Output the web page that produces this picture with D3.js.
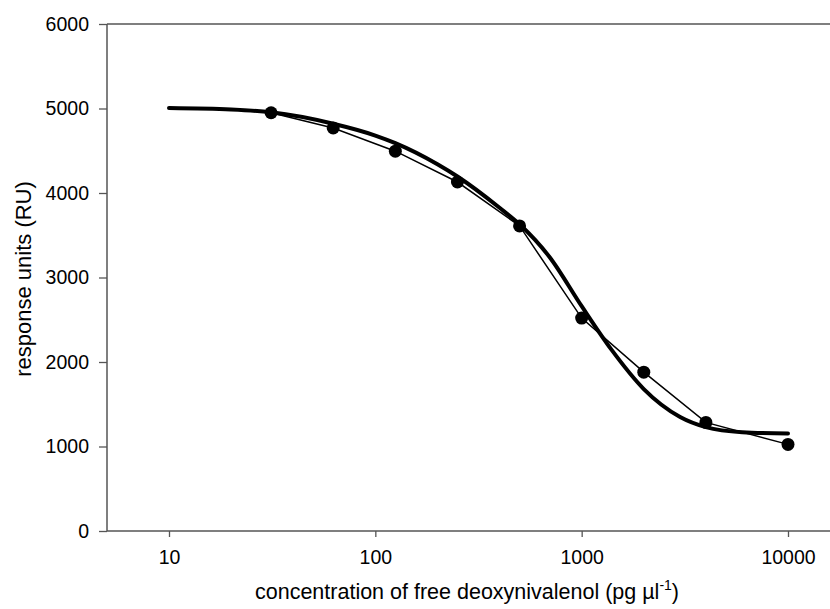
<!DOCTYPE html>
<html lang="en">
<head>
<meta charset="UTF-8">
<script src="https://cdnjs.cloudflare.com/ajax/libs/d3/7.8.4/d3.min.js"></script>
<title>DON calibration</title>
<style>
  body { margin: 0; background: #fff; }
  text { font-family: Arial, "Liberation Sans", sans-serif; fill: #000; }
</style>
</head>
<body>
<script>
// measured points
const conc = [31.25, 62.5, 125, 250, 500, 1000, 2000, 4000, 10000]
const resp = [4950, 4770, 4495, 4130, 3610, 2520, 1880, 1285, 1025]

// fitted curve
const fitConc = [10, 20, 31.25, 62.5, 100, 125, 200, 250, 400, 500, 700, 1000, 1400, 2000, 3000, 4000, 6000, 10000]
const fitResp = [5005, 4988, 4955, 4820, 4680, 4590, 4340, 4195, 3825, 3630, 3240, 2660, 2140, 1680, 1350, 1230, 1170, 1155]

const xTicks = [10, 100, 1000, 10000]
const yTicks = [0, 1000, 2000, 3000, 4000, 5000, 6000]

const W = 830, H = 609
const plotL = 107, plotR = 830, plotT = 24, plotB = 531

let svg = d3.select("body").append("svg")
  .attr("width", W)
  .attr("height", H)

let x = d3.scaleLog().domain([10, 10000]).range([169, 788])
let y = d3.scaleLinear().domain([0, 6000]).range([plotB, plotT])

// y axis
let yAxis = svg.append("g")
  .attr("transform", `translate(${plotL},0)`)
  .call(d3.axisLeft(y).tickValues(yTicks).tickSize(8).tickPadding(10).tickFormat(d3.format("d")))
yAxis.select(".domain").remove()
yAxis.selectAll(".tick line").attr("stroke", "#555").attr("stroke-width", 1.3)
yAxis.selectAll(".tick text").style("font-size", "19.5px")

// x axis
let xAxis = svg.append("g")
  .attr("transform", `translate(0,${plotB})`)
  .call(d3.axisBottom(x).tickValues(xTicks).tickSize(6).tickPadding(13).tickFormat(d3.format("d")))
xAxis.select(".domain").remove()
xAxis.selectAll(".tick line").attr("stroke", "#555").attr("stroke-width", 1.3)
xAxis.selectAll(".tick text").style("font-size", "19.5px")

// frame lines (left, bottom, top)
svg.append("line").attr("x1", plotL).attr("x2", plotL).attr("y1", plotT).attr("y2", plotB)
  .attr("stroke", "#555").attr("stroke-width", 1.5)
svg.append("line").attr("x1", plotL).attr("x2", plotR).attr("y1", plotB).attr("y2", plotB)
  .attr("stroke", "#555").attr("stroke-width", 1.5)
svg.append("line").attr("x1", plotL).attr("x2", plotR).attr("y1", plotT).attr("y2", plotT)
  .attr("stroke", "#555").attr("stroke-width", 1.5)

// thin line through the points
let pts = conc.map((c, i) => [c, resp[i]])
svg.append("path")
  .datum(pts)
  .attr("fill", "none")
  .attr("stroke", "#000")
  .attr("stroke-width", 1.5)
  .attr("d", d3.line().x(d => x(d[0])).y(d => y(d[1])))

// fit curve
let fit = fitConc.map((c, i) => [c, fitResp[i]])
svg.append("path")
  .datum(fit)
  .attr("fill", "none")
  .attr("stroke", "#000")
  .attr("stroke-width", 4)
  .attr("stroke-linecap", "round")
  .attr("d", d3.line().curve(d3.curveMonotoneX).x(d => x(d[0])).y(d => y(d[1])))

// markers
svg.selectAll("circle.pt").data(pts).enter().append("circle")
  .attr("class", "pt")
  .attr("cx", d => x(d[0]))
  .attr("cy", d => y(d[1]))
  .attr("r", 6.5)
  .attr("fill", "#000")

// axis titles
svg.append("text")
  .attr("transform", `translate(31,279) rotate(-90)`)
  .attr("text-anchor", "middle")
  .style("font-size", "22px")
  .text("response units (RU)")

let xt = svg.append("text")
  .attr("x", 467)
  .attr("y", 599)
  .attr("text-anchor", "middle")
  .style("font-size", "21.5px")
xt.append("tspan").text("concentration of free deoxynivalenol (pg µl")
xt.append("tspan").attr("dy", -9).style("font-size", "14px").text("-1")
xt.append("tspan").attr("dy", 9).text(")")
</script>
</body>
</html>
